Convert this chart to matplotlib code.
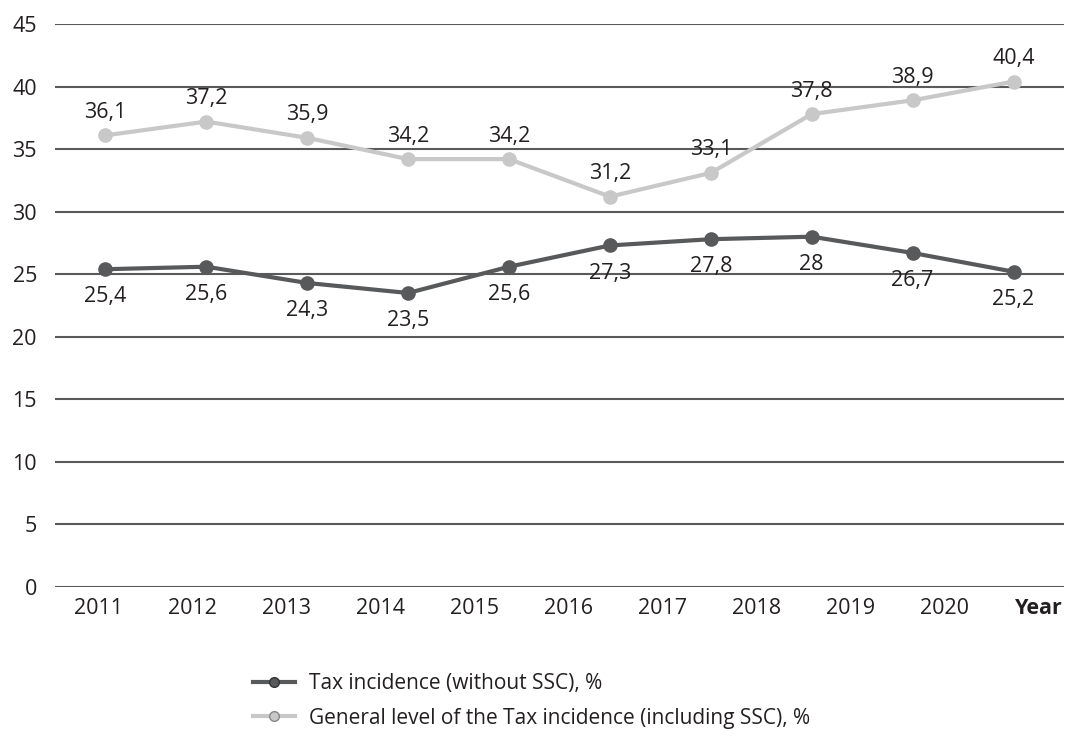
import matplotlib
matplotlib.use("Agg")
import matplotlib.pyplot as plt
from matplotlib.lines import Line2D
import numpy as np

plt.rcParams['font.family'] = ['Open Sans', 'DejaVu Sans']

# data
years = ["2011", "2012", "2013", "2014", "2015", "2016", "2017", "2018", "2019", "2020"]
axis_labels = years + ["Year"]
tax_without_ssc = [25.4, 25.6, 24.3, 23.5, 25.6, 27.3, 27.8, 28.0, 26.7, 25.2]
tax_with_ssc = [36.1, 37.2, 35.9, 34.2, 34.2, 31.2, 33.1, 37.8, 38.9, 40.4]
label_without = "Tax incidence (without SSC), %"
label_with = "General level of the Tax incidence (including SSC), %"

DARK = "#58595b"
LIGHT = "#c8c8c8"
TEXT = "#231f20"
GRID = "#5a5a5a"
FS = 15.5


def fmt(v):
    s = f"{v:.1f}".replace(".", ",")
    return s[:-2] if s.endswith(",0") else s


fig = plt.figure(figsize=(10.70, 7.36), dpi=100)
ax = fig.add_axes([55 / 1070, 1 - 587 / 736, (1064 - 55) / 1070, (587 - 24) / 736])

x = np.arange(len(years)) + 0.5

ax.plot(x, tax_without_ssc, color=DARK, lw=3, marker="o", ms=9.5, zorder=4)
ax.plot(x, tax_with_ssc, color=LIGHT, lw=3, marker="o", ms=9.5, zorder=3)

for xi, v in zip(x, tax_without_ssc):
    ax.annotate(fmt(v), (xi, v), xytext=(0, -20), textcoords="offset points",
                ha="center", va="center", fontsize=FS, color=TEXT)
for xi, v in zip(x, tax_with_ssc):
    ax.annotate(fmt(v), (xi, v), xytext=(0, 16.5), textcoords="offset points",
                ha="center", va="center", fontsize=FS, color=TEXT)

ax.set_xlim(0, len(years))
ax.set_ylim(0, 45)
ax.set_yticks(np.arange(0, 46, 5))
ax.set_yticklabels([str(t) for t in range(0, 46, 5)], fontsize=FS, color=TEXT)

# category labels are spread over 11 slots (years + "Year")
label_pos = np.linspace(0.43, 9.75, len(axis_labels))
ax.set_xticks(label_pos)
ax.set_xticklabels(axis_labels, fontsize=FS, color=TEXT)
ax.get_xticklabels()[-1].set_fontweight("bold")

ax.tick_params(axis="both", length=0)
ax.tick_params(axis="y", pad=13)
ax.tick_params(axis="x", pad=8)
for s in ax.spines.values():
    s.set_visible(False)
ax.yaxis.grid(True, color=GRID, lw=1.5)
ax.set_axisbelow(True)

handles = [
    Line2D([], [], color=DARK, lw=3, marker="o", ms=7, markerfacecolor=DARK, markeredgecolor="#333333"),
    Line2D([], [], color=LIGHT, lw=3, marker="o", ms=7, markerfacecolor=LIGHT, markeredgecolor="#888888"),
]
fig.legend(handles, [label_without, label_with], loc="upper left",
           bbox_to_anchor=(249 / 1070, 1 - 669 / 736), frameon=False,
           fontsize=15, handlelength=2.0, handletextpad=0.7, labelspacing=0.65,
           labelcolor=TEXT, borderaxespad=0, borderpad=0.2)

fig.savefig("out.png", dpi=100)
